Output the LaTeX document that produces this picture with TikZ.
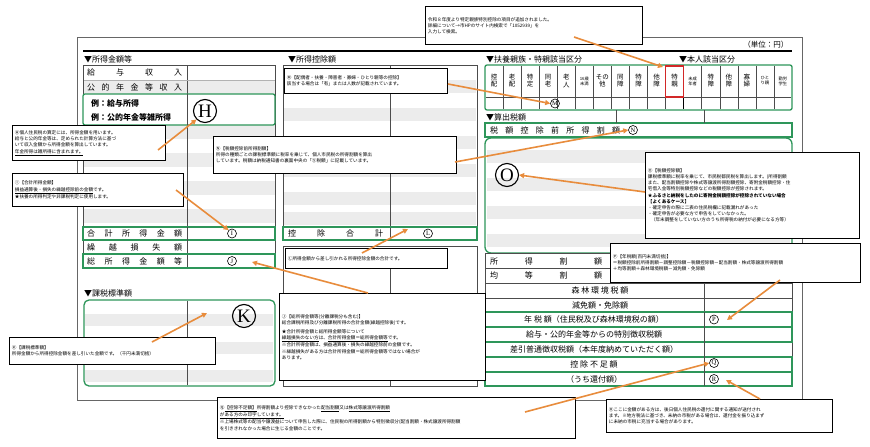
\documentclass[tikz,border=0pt]{standalone}
\usepackage{fontspec}
\setmainfont{Noto Sans CJK JP}
\newfontfamily\serifl{Liberation Serif}
\usetikzlibrary{arrows.meta}
\definecolor{gr}{RGB}{46,150,90}
\definecolor{org}{RGB}{232,140,60}
\definecolor{stripe}{RGB}{236,236,236}
\definecolor{redb}{RGB}{210,40,40}
\newcommand{\spreadbox}[2]{\makebox[#1]{#2}}
\tikzset{
  lab/.style={font=\fontsize{8}{9}\selectfont,anchor=west,inner sep=0pt},
  head/.style={font=\fontsize{8}{9}\selectfont,anchor=west,inner sep=0pt},
  callout/.style={draw=black,line width=0.9pt,fill=white,anchor=north west,align=left,inner sep=2.5pt,font=\fontsize{4.6}{6.2}\selectfont},
  arr/.style={draw=org,line width=1.6pt,-{Triangle[length=5pt,width=5pt]}},
  gbox/.style={draw=gr,line width=1.3pt},
  bigc/.style={circle,draw=black,line width=1.1pt,inner sep=0.5pt,font=\fontsize{19}{19}\serifl,minimum size=23pt},
  smc/.style={circle,draw=black,line width=0.6pt,inner sep=0pt,minimum size=9pt,font=\fontsize{6.5}{6.5}\serifl},
  thin/.style={draw=black!70,line width=0.5pt}
}
\begin{document}
\begin{tikzpicture}[x=1pt,y=-1pt]
\useasboundingbox (0,0) rectangle (870,447);
\fill[white] (0,0) rectangle (870,447);
% outer frame
\draw[black!60,line width=0.6pt] (77,37) rectangle (802,400);
\draw[black,line width=1.5pt] (83,51) -- (792,51);
\node[font=\fontsize{7.5}{8}\selectfont,anchor=east] (unit) at (792,45) {（単位：円）};
% ===== left table
\node[head] (h1) at (84,59) {▼所得金額等};
\foreach \y in {80,125,153,181,209} \fill[stripe] (84,\y) rectangle (275,\y+14);
\draw[thin] (83,65) rectangle (275,268);
\draw[thin] (187,65) -- (187,268);
\foreach \y in {80,94} \draw[black!30] (84,\y) -- (275,\y);
\node[lab] (l1) at (87,72.5) {\spreadbox{95pt}{給\hfill 与\hfill 収\hfill 入}};
\node[lab] (l2) at (87,87) {\spreadbox{95pt}{公\hfill 的\hfill 年\hfill 金\hfill 等\hfill 収\hfill 入}};
\draw[gbox,rounded corners=2pt,fill=white] (83,94) rectangle (275,125);
\draw[thin] (187,94) -- (187,125);
\node[lab,font=\bfseries\fontsize{8}{9}\selectfont] (l3) at (91,103) {例：給与所得};
\node[lab,font=\bfseries\fontsize{8}{9}\selectfont] (l4) at (91,117) {例：公的年金等雑所得};
\node[bigc] (H) at (205,111) {H};
\draw[gbox] (83,227) rectangle (275,240);
\draw[thin] (187,227) -- (187,268);
\draw[gbox] (83,254) rectangle (275,268);
\node[lab] (l5) at (87,233.5) {\spreadbox{95pt}{合\hfill 計\hfill 所\hfill 得\hfill 金\hfill 額}};
\node[lab] (l6) at (87,247) {\spreadbox{95pt}{繰\hfill 越\hfill 損\hfill 失\hfill 額}};
\node[lab] (l7) at (87,261) {\spreadbox{95pt}{総\hfill 所\hfill 得\hfill 金\hfill 額\hfill 等}};
\node[smc] (I) at (232,233.5) {I};
\node[smc] (J) at (232,261) {J};
% taxable
\node[head] (h2) at (84,293) {▼課税標準額};
\foreach \y in {314,342,370} \fill[stripe] (85,\y) rectangle (273,\y+12);
\draw[gbox,rounded corners=5pt] (84,300) rectangle (275,386);
\draw[thin] (187,301) -- (187,385);
\node[bigc] (K) at (244,316) {K};
% ===== middle table
\node[head] (h3) at (288,59) {▼所得控除額};
\foreach \y in {80,108,136,164,192,212} \fill[stripe] (284,\y) rectangle (476,\y+13);
\draw[thin] (283,65) rectangle (477,240);
\draw[thin] (390,65) -- (390,240);
\draw[gbox] (283,227) rectangle (477,240);
\node[lab] (l8) at (288,233.5) {\spreadbox{95pt}{控\hfill 除\hfill 合\hfill 計}};
\node[smc] (L) at (428,233.5) {L};
\draw[thin] (283,246) rectangle (477,386);
\draw[thin] (390,268) -- (390,386);
% ===== right: dependents
\node[head] (h4) at (486,59) {▼扶養親族・特親該当区分};
\node[head] (h5) at (679,59) {▼本人該当区分};
\draw[gbox,rounded corners=2pt] (485,65) rectangle (792,110);
\draw[thin] (486,97) -- (791,97);
\foreach \i/\t in {0/控\\配,1/老\\配,2/特\\定,3/同\\老,4/老\\人,6/その\\他,7/同\\障,8/特\\障,9/他\\障,10/特\\親,12/特\\障,13/他\\障,14/寡\\婦}
  \node[font=\fontsize{6.5}{7}\selectfont,align=center,inner sep=0pt] (d\i) at (485+\i*18.06+9.03,81) {\t};
\node[font=\fontsize{4.3}{5}\selectfont,align=center,inner sep=0pt] (d5) at (485+5*18.06+9.03,81) {16歳\\未満};
\node[font=\fontsize{4.3}{5}\selectfont,align=center,inner sep=0pt] (d11) at (485+11*18.06+9.03,81) {未成\\年者};
\node[font=\fontsize{4.3}{5}\selectfont,align=center,inner sep=0pt] (d15) at (485+15*18.06+9.03,81) {ひと\\り親};
\node[font=\fontsize{4.3}{5}\selectfont,align=center,inner sep=0pt] (d16) at (485+16*18.06+9.03,81) {勤労\\学生};
\foreach \i in {1,...,16} \draw[thin] (485+\i*18.06,66) -- (485+\i*18.06,109);
\draw[black,line width=1pt] (485+11*18.06,66) -- (485+11*18.06,109);
\draw[redb,line width=1.4pt] (485+10*18.06,66) rectangle (485+11*18.06,97);
\node[smc] (M) at (555,103.5) {M};
% ===== computed tax
\node[head] (h6) at (486,117) {▼算出税額};
\draw[gbox] (485,123) rectangle (792,137);
\node[lab] (l9) at (490,130) {\spreadbox{130pt}{税\hfill 額\hfill 控\hfill 除\hfill 前\hfill 所\hfill 得\hfill 割\hfill 額}};
\node[smc] (N) at (633,130) {N};
\foreach \y in {150,178,206,234} \fill[stripe] (487,\y) rectangle (790,\y+13);
\draw[gbox,rounded corners=6pt] (485,138) rectangle (792,253);
\draw[thin] (616,110) -- (616,123);\draw[thin] (704,110) -- (704,123);
\node[bigc] (O) at (507,175) {O};
\draw[thin] (485,253) rectangle (792,386);
\draw[thin] (704,253) -- (704,386);
\foreach \y in {268,283,298} \draw[thin] (485,\y) -- (792,\y);
\node[lab] (r1) at (490,261) {\spreadbox{112pt}{所\hfill 得\hfill 割\hfill 額}};
\node[lab] (r2) at (490,275.5) {\spreadbox{112pt}{均\hfill 等\hfill 割\hfill 額}};
\node[lab,anchor=center] (r3) at (600,290.5) {森\ 林\ 環\ 境\ 税\ 額};
\node[lab,anchor=center] (r4) at (600,305) {減免額・免除額};
\draw[gbox] (485,312) rectangle (792,327);
\draw[gbox] (485,327) rectangle (792,342);
\draw[gbox] (485,357) rectangle (792,372);
\draw[gbox] (485,372) rectangle (792,386);
\draw[thin] (704,312) -- (704,386);
\node[lab,anchor=center] (r5) at (594,319.5) {年\ 税\ 額（住民税及び森林環境税の額）};
\node[lab,anchor=center] (r6) at (594,334.5) {給与・公的年金等からの特別徴収税額};
\node[lab,anchor=center] (r7) at (594,349.5) {差引普通徴収税額（本年度納めていただく額）};
\node[lab,anchor=center] (r8) at (594,364.5) {控\ 除\ 不\ 足\ 額};
\node[lab,anchor=center] (r9) at (594,379) {（うち還付額）};
\node[smc] (P) at (714,319.5) {P};
\node[smc] (Q) at (714,363) {Q};
\node[smc] (R) at (714,379) {R};
% ===== callouts
\node[callout,text width=148pt,minimum height=35pt] (cH) at (12,125) {Ⓗ個人住民税の算定には、所得金額を用います。\\給与と公的年金等は、定められた計算方法に基づ\\いて収入金額から所得金額を算出しています。\\\underline{年金所得は雑所得に含まれます。}};
\node[callout,text width=166pt,minimum height=33pt] (cI) at (12,173) {Ⓘ【合計所得金額】\\\underline{損益通算後・損失の繰越控除前の金額}です。\\★扶養の所得判定や非課税判定に使用します。};
\node[callout,text width=201pt,minimum height=27pt] (cK) at (9,337) {Ⓚ【課税標準額】\\所得金額から所得控除金額を差し引いた金額です。（千円未満切捨）};
\node[callout,text width=158pt,minimum height=25pt] (cM) at (284,68) {Ⓜ【配偶者・扶養・障害者・寡婦・ひとり親等の控除】\\該当する場合は「有」または人数が記載されています。};
\node[callout,text width=238pt,minimum height=37pt] (cN) at (213,136) {Ⓝ【税額控除前所得割額】\\所得の種類ごとの課税標準額に税率を乗じて、個人市民税の所得割額を算出\\しています。税額は納税通知書の裏面中央の「⑤税額」に記載しています。};
\node[callout,text width=157pt,minimum height=20pt] (cL) at (285,248) {Ⓛ所得金額から差し引かれる所得控除金額の合計です。};
\node[callout,text width=201pt,minimum height=87pt] (cJ) at (279,293) {Ⓙ【総所得金額等(分離課税分も含む)】\\総合課税所得及び分離課税所得の合計金額(繰越控除後)です。\\[3pt]★合計所得金額と総所得金額等について\\\underline{繰越損失のない方}は、\underline{合計所得金額＝総所得金額等}です。\\※合計所得金額は、損益通算後・損失の繰越控除前の金額です。\\※繰越損失がある方は合計所得金額＝総所得金額等ではない場合が\\あります。};
\node[callout,text width=353pt,minimum height=41pt] (cQ) at (217,397) {Ⓠ\underline{【控除不足額】}所得割額より控除できなかった\underline{配当割額}又は\underline{株式等譲渡所得割額}\\\underline{がある方のみ印字しています。}\\※上場株式等の配当や譲渡益について申告した際に、住民税の所得割額から特別徴収分(配当割額・株式譲渡所得割額\\を引ききれなかった場合に生じる金額のことです。};
\node[callout,text width=212pt,minimum height=38pt] (cT) at (425,6) {令和８年度より特定親族特別控除の項目が追加されました。\\詳細について→市HPのサイト内検索で「1052939」を\\入力して検索。};
\node[callout,text width=209pt,minimum height=86pt] (cO) at (645,152) {Ⓞ【税額控除額】\\課税標準額に税率を乗じて、市民税都民税を算出します。(所得割額\\また、配当割額控除や株式等譲渡所得割額控除、寄附金税額控除・住\\宅借入金等特別税額控除などの税額控除が控除されます。\\\textbf{★ふるさと納税をしたのに寄附金税額控除が控除されていない場合}\\\textbf{【よくあるケース】}\\・確定申告の際に二表の住民税欄に記載漏れがあった\\・確定申告が必要な方で申告をしていなかった。\\\ \ （年末調整をしていない方のうち所得税の納付が必要になる方等）};
\node[callout,text width=245pt,minimum height=39pt] (cP) at (610,243) {Ⓟ【年税額(百円未満切捨)】\\＝税額控除前所得割額－調整控除額－税額控除額－配当割額・株式等譲渡所得割額\\＋均等割額＋森林環境税額－減免額・免除額};
\node[callout,text width=221pt,minimum height=33pt] (cR) at (606,399) {Ⓡここに金額がある方は、後日個人住民税の還付に関する通知が送付され\\ます。※地方税法に基づき、未納の市税がある場合は、還付金を振り込まず\\に未納の市税に充当する場合があります。};
% ===== arrows
\coordinate (tH) at (158,150); \draw[arr] (tH) -- (H.south west);
\coordinate (tI) at (176,190); \draw[arr] (tI) -- (I.north west);
\coordinate (tK) at (152,342); \draw[arr] (tK) -- (207,313);
\coordinate (tM) at (448,84); \draw[arr] (tM) -- (M.west);
\coordinate (tN) at (455,162); \draw[arr] (tN) -- (N.west);
\coordinate (tL) at (362,253); \draw[arr] (tL) -- (408,229);
\coordinate (tJ) at (368,293); \draw[arr] (tJ) -- (252,262);
\coordinate (tQ) at (525,412); \draw[arr] (tQ) -- (Q.west);
\coordinate (tT) at (574,37); \draw[arr] (tT) -- (663,67);
\coordinate (tO) at (645,192); \draw[arr] (tO) -- (O.east);
\coordinate (tP) at (780,280); \draw[arr] (tP) -- (727,320);
\coordinate (tR) at (760,399); \draw[arr] (tR) -- (726,380);
\end{tikzpicture}
\end{document}
